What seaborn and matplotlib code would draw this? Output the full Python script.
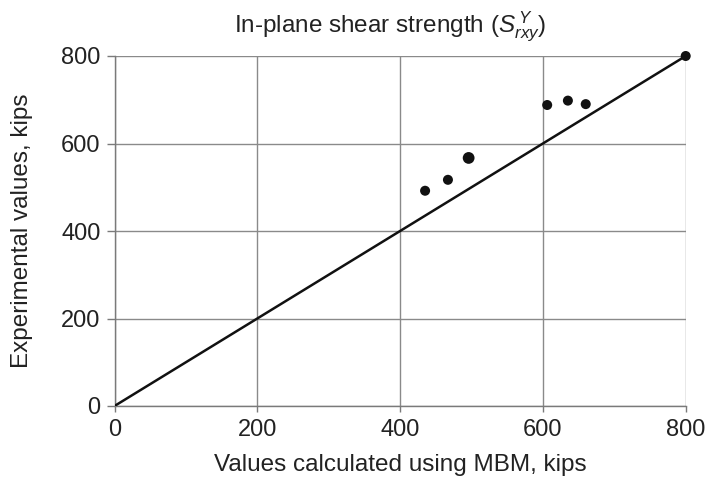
import matplotlib
matplotlib.use("Agg")
import matplotlib.pyplot as plt
import seaborn as sns
import pandas as pd

calc_mbm = [435, 467, 496, 606, 635, 660, 800]
experimental = [492, 517, 567, 688, 698, 690, 800]
ticks = [0, 200, 400, 600, 800]
line_x = [0, 800]
line_y = [0, 800]

sns.set_theme(style="white")
plt.rcParams['font.family'] = ['Liberation Sans', 'DejaVu Sans']
plt.rcParams['mathtext.fontset'] = 'custom'
plt.rcParams['mathtext.rm'] = 'Liberation Sans'
plt.rcParams['mathtext.it'] = 'Liberation Sans:italic'

df = pd.DataFrame({"x": calc_mbm, "y": experimental})
sizes = [52, 52, 72, 52, 52, 52, 52]

W, H = 708, 480
x0, x1, y0, y1 = 114.5, 685.7, 56, 406
fig = plt.figure(figsize=(7.08, 4.8), dpi=100)
ax = fig.add_axes([x0 / W, 1 - y1 / H, (x1 - x0) / W, (y1 - y0) / H])

sns.lineplot(x=line_x, y=line_y, ax=ax, color="#111111", linewidth=1.8, zorder=3)
sns.scatterplot(data=df, x="x", y="y", ax=ax, color="#111111", s=sizes,
                edgecolor="none", zorder=4, clip_on=False, legend=False)

ax.set_xlim(0, 800)
ax.set_ylim(0, 800)
ax.set_xticks(ticks)
ax.set_yticks(ticks)
ax.set_xticklabels([str(t) for t in ticks])
ax.set_yticklabels([str(t) for t in ticks])
ax.grid(True, color="#8a8a8a", linewidth=1.0)
ax.set_axisbelow(True)
for s in ["top", "right"]:
    ax.spines[s].set_visible(False)
for s in ["left", "bottom"]:
    ax.spines[s].set_color("#7a7a7a")
    ax.spines[s].set_linewidth(1.0)
ax.tick_params(axis="both", width=1, color="#7a7a7a", labelsize=17,
               labelcolor="#222222", bottom=True, left=True)
ax.tick_params(axis="x", length=4, pad=5)
ax.tick_params(axis="y", length=5.5, pad=4.5)

ax.set_xlabel("Values calculated using MBM, kips", fontsize=17.5, color="#222222", labelpad=10)
ax.set_ylabel("Experimental values, kips", fontsize=17.5, color="#222222", labelpad=20)
ax.set_title(r"In-plane shear strength ($S_{rxy}^{\,Y}$)", fontsize=17.5, color="#222222",
             pad=17, x=0.483)

fig.savefig("out.png", dpi=100)
